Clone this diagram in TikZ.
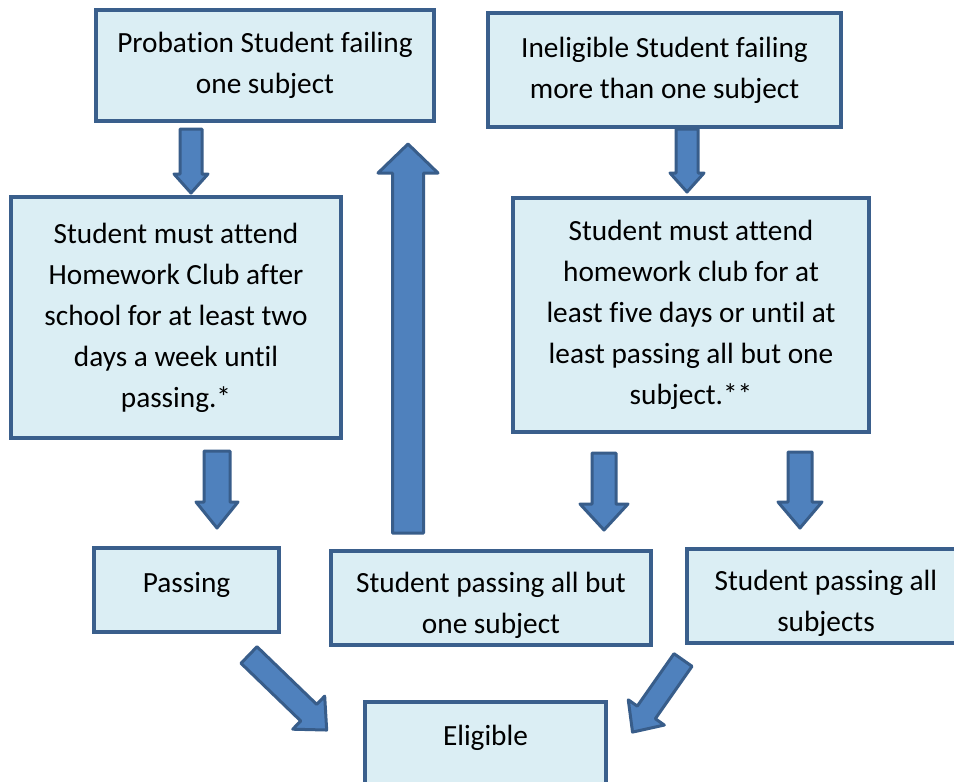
\documentclass[tikz,border=0pt]{standalone}
\usepackage{fontspec}
\setmainfont{Carlito}[Ligatures={NoCommon}]
\definecolor{boxfill}{RGB}{219,238,244}
\definecolor{boxline}{RGB}{58,95,140}
\definecolor{arrfill}{RGB}{79,129,189}
\definecolor{arrline}{RGB}{56,93,138}
\tikzset{
  box/.style={draw=boxline, fill=boxfill, line width=4pt, align=center,
    font=\fontsize{29.3}{41}\selectfont, inner sep=0pt},
  boxtext/.style={align=center, font=\fontsize{29.3}{41}\selectfont, inner sep=0pt},
  blockarrow/.style={draw=arrline, fill=arrfill, line width=3pt, line join=round}
}
\newcommand{\barr}[7]{%
  \draw[blockarrow, shift={(#1,#2)}, rotate=#3]
    (0,-#5) -- ({#4-#7},-#5) -- ({#4-#7},-#6) -- (#4,0) -- ({#4-#7},#6) -- ({#4-#7},#5) -- (0,#5) -- cycle;}
\begin{document}
\begin{tikzpicture}[x=1pt,y=-1pt]
\useasboundingbox (0,0) rectangle (954,782);
\clip (0,0) rectangle (954,782);
\fill[white] (0,0) rectangle (954,782);
% boxes
\node[box, minimum width=338pt, minimum height=111pt] (prob) at (265,65.5) {Probation Student failing\\one subject};
\node[box, minimum width=353pt, minimum height=114pt] (inel) at (664.5,70) {Ineligible Student failing\\more than one subject};
\node[box, minimum width=330pt, minimum height=241pt] (attL) at (176,317.5) {Student must attend\\Homework Club after\\school for at least two\\days a week until\\passing.*};
\node[box, minimum width=356pt, minimum height=234pt] (attR) at (691,315) {Student must attend\\homework club for at\\least five days or until at\\least passing all but one\\subject.**};
\node[box, minimum width=185pt, minimum height=84pt] (pass) at (186.5,590) {};
\node[boxtext] (passT) at (186.5,585) {Passing};
\node[box, minimum width=320pt, minimum height=94pt] (pabo) at (491,598) {};
\node[boxtext] (paboT) at (491,605.5) {Student passing all but\\one subject};
\node[box, minimum width=278pt, minimum height=94pt] (pall) at (826,596) {};
\node[boxtext] (pallT) at (826,603.5) {Student passing all\\subjects};
\node[box, minimum width=241pt, minimum height=100pt] (elig) at (485.5,752) {};
\node[boxtext] (eligT) at (485.5,738) {Eligible};
% block arrows
\barr{191}{129}{-90}{64}{11}{17}{19}
\barr{408}{533}{90}{389}{15.5}{30}{29}
\barr{687}{129}{-90}{63}{11}{17}{19}
\barr{217}{451}{-90}{77}{13}{21}{26}
\barr{604}{453}{-90}{77}{12}{24}{26}
\barr{800}{452}{-90}{76}{12}{22}{26}
\barr{249}{655}{-44}{108}{11.5}{23}{25}
\barr{683}{660}{-125}{88}{11}{22}{24}
\end{tikzpicture}
\end{document}
